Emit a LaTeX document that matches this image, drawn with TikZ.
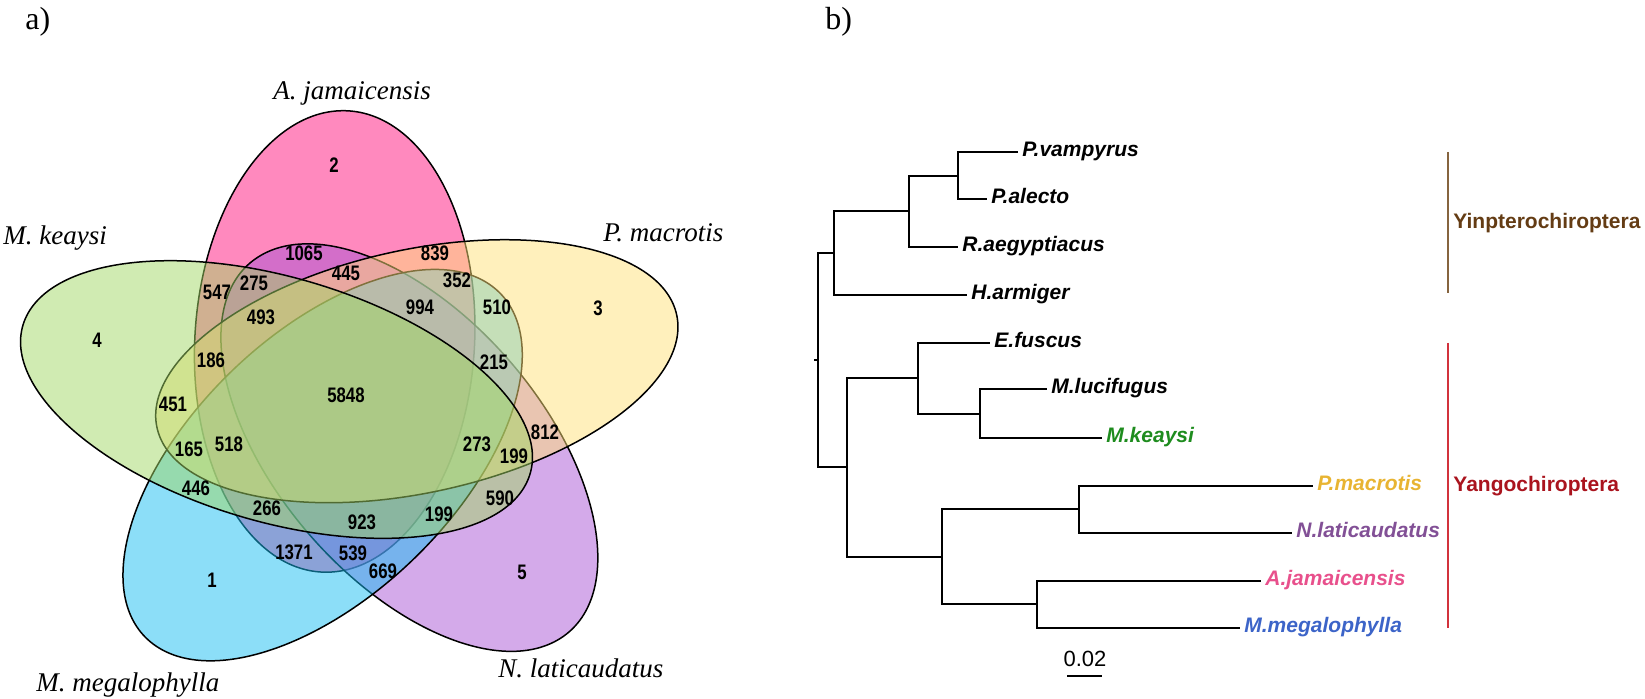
\documentclass[tikz,border=0pt]{standalone}
\usepackage{fontspec}
\setmainfont{Liberation Serif}
\setsansfont{Liberation Sans}
\newfontfamily\numfont[FakeStretch=0.8]{Liberation Sans}
\usetikzlibrary{positioning}

\definecolor{vennPink}{RGB}{255,20,125}
\definecolor{vennGreen}{RGB}{161,215,101}
\definecolor{vennYellow}{RGB}{255,225,121}
\definecolor{vennPurple}{RGB}{169,85,213}
\definecolor{vennBlue}{RGB}{25,189,241}
\definecolor{mkGreen}{RGB}{30,140,30}
\definecolor{pmGold}{RGB}{232,180,50}
\definecolor{nlPurple}{RGB}{130,80,150}
\definecolor{ajPink}{RGB}{232,80,140}
\definecolor{mmBlue}{RGB}{60,100,200}
\definecolor{yinLine}{RGB}{134,100,63}
\definecolor{yinText}{RGB}{100,60,20}
\definecolor{yangLine}{RGB}{210,50,60}
\definecolor{yangText}{RGB}{170,20,30}

\begin{document}
\begin{tikzpicture}
    [x=0.5pt, y=0.5pt,
     panelLabel/.style={font=\fontsize{16}{19}\selectfont, inner sep=0pt, anchor=base west},
     setLabel/.style={font=\fontsize{13.5}{16}\selectfont\itshape, inner sep=0pt, anchor=base west},
     countLabel/.style={font=\numfont\bfseries\fontsize{10.5}{12}\selectfont, inner sep=0pt},
     vennSet/.style={draw=black, line width=0.75pt, fill opacity=0.5},
     branch/.style={line width=1.1pt},
     leaf/.style={font=\sffamily\bfseries\itshape\fontsize{10.5}{12}\selectfont, inner xsep=2pt, inner ysep=0pt, anchor=mid west},
     cladeLabel/.style={font=\sffamily\bfseries\fontsize{10.5}{12}\selectfont, inner xsep=2.5pt, inner ysep=0pt, anchor=mid west},
    ]

    \useasboundingbox (0,0) rectangle (1645,-699);

    % panel letters
    \node[panelLabel] (panelA) at (25,-30) {a)};
    \node[panelLabel] (panelB) at (825,-30) {b)};

    % a) five-set Venn diagram
    \begin{scope}[shift={(352,-405)}, xscale=583, yscale=502]
        \filldraw[vennSet, fill=vennPink, rotate around={87.5:(-0.0297,0.1266)}] (-0.0297,0.1266) ellipse [x radius=0.46, y radius=0.24];
        \filldraw[vennSet, fill=vennPurple, rotate around={303.5:(0.0984,-0.0849)}] (0.0984,-0.0849) ellipse [x radius=0.46, y radius=0.24];
        \filldraw[vennSet, fill=vennBlue, rotate around={231.5:(-0.0504,-0.1198)}] (-0.0504,-0.1198) ellipse [x radius=0.46, y radius=0.24];
        \filldraw[vennSet, fill=vennYellow, rotate around={15.5:(0.1112,0.0673)}] (0.1112,0.0673) ellipse [x radius=0.46, y radius=0.24];
        \filldraw[vennSet, fill=vennGreen, rotate around={159.5:(-0.1295,0.0109)}] (-0.1295,0.0109) ellipse [x radius=0.46, y radius=0.24];
    \end{scope}

    \node[setLabel] (ajName) at (273,-100) {A. jamaicensis};
    \node[setLabel] (mkName) at (3,-245) {M. keaysi};
    \node[setLabel] (pmName) at (603,-242) {P. macrotis};
    \node[setLabel] (mmName) at (36,-692) {M. megalophylla};
    \node[setLabel] (nlName) at (498,-678) {N. laticaudatus};

    \node[countLabel] (ajOnly) at (334,-165) {2};
    \node[countLabel] (mkOnly) at (97,-340) {4};
    \node[countLabel] (pmOnly) at (598,-308) {3};
    \node[countLabel] (mmOnly) at (212,-580) {1};
    \node[countLabel] (nlOnly) at (522,-572) {5};
    \node[countLabel] (c1065) at (304,-253) {1065};
    \node[countLabel] (c839) at (435,-253) {839};
    \node[countLabel] (c445) at (346,-273) {445};
    \node[countLabel] (c352) at (457,-280) {352};
    \node[countLabel] (c547) at (217,-292) {547};
    \node[countLabel] (c275) at (254,-283) {275};
    \node[countLabel] (c994) at (420,-307) {994};
    \node[countLabel] (c510) at (497,-307) {510};
    \node[countLabel] (c493) at (261,-317) {493};
    \node[countLabel] (c186) at (211,-360) {186};
    \node[countLabel] (c215) at (494,-362) {215};
    \node[countLabel] (c5848) at (346,-395) {5848};
    \node[countLabel] (c451) at (173,-404) {451};
    \node[countLabel] (c165) at (189,-449) {165};
    \node[countLabel] (c518) at (229,-444) {518};
    \node[countLabel] (c273) at (477,-444) {273};
    \node[countLabel] (c812) at (545,-432) {812};
    \node[countLabel] (c199a) at (514,-456) {199};
    \node[countLabel] (c446) at (196,-488) {446};
    \node[countLabel] (c266) at (267,-508) {266};
    \node[countLabel] (c923) at (362,-522) {923};
    \node[countLabel] (c199b) at (439,-514) {199};
    \node[countLabel] (c590) at (500,-498) {590};
    \node[countLabel] (c1371) at (294,-552) {1371};
    \node[countLabel] (c539) at (353,-553) {539};
    \node[countLabel] (c669) at (383,-571) {669};

    % b) tree
    \coordinate (root) at (818,-360);
    \coordinate (rootTick) at (814,-360);
    \coordinate (yin) at (834,-253);
    \coordinate (yinA) at (909,-211);
    \coordinate (yinB) at (958,-176);
    \coordinate (yang) at (847,-467);
    \coordinate (vesp) at (918,-378);
    \coordinate (myot) at (980,-414);
    \coordinate (noct) at (942,-557);
    \coordinate (molo) at (1079,-509);
    \coordinate (phyl) at (1037,-604);

    \coordinate (tipPv) at (1018,-152);
    \coordinate (tipPa) at (987,-199);
    \coordinate (tipRa) at (958,-247);
    \coordinate (tipHa) at (967,-295);
    \coordinate (tipEf) at (990,-343);
    \coordinate (tipMl) at (1047,-389);
    \coordinate (tipMk) at (1102,-438);
    \coordinate (tipPm) at (1313,-486);
    \coordinate (tipNl) at (1292,-533);
    \coordinate (tipAj) at (1261,-581);
    \coordinate (tipMm) at (1240,-628);

    \node[right=0pt of tipPv, leaf] (Pv) {P.vampyrus};
    \node[right=0pt of tipPa, leaf] (Pa) {P.alecto};
    \node[right=0pt of tipRa, leaf] (Ra) {R.aegyptiacus};
    \node[right=0pt of tipHa, leaf] (Ha) {H.armiger};
    \node[right=0pt of tipEf, leaf] (Ef) {E.fuscus};
    \node[right=0pt of tipMl, leaf] (Ml) {M.lucifugus};
    \node[right=0pt of tipMk, leaf, text=mkGreen] (Mk) {M.keaysi};
    \node[right=0pt of tipPm, leaf, text=pmGold] (Pm) {P.macrotis};
    \node[right=0pt of tipNl, leaf, text=nlPurple] (Nl) {N.laticaudatus};
    \node[right=0pt of tipAj, leaf, text=ajPink] (Aj) {A.jamaicensis};
    \node[right=0pt of tipMm, leaf, text=mmBlue] (Mm) {M.megalophylla};

    \draw[branch] (rootTick) -- (root);
    \draw[branch] (root) |- (yin);
    \draw[branch] (yin) |- (yinA);
    \draw[branch] (yinA) |- (yinB);
    \draw[branch] (yinB) |- (tipPv);
    \draw[branch] (yinB) |- (tipPa);
    \draw[branch] (yinA) |- (tipRa);
    \draw[branch] (yin) |- (tipHa);
    \draw[branch] (root) |- (yang);
    \draw[branch] (yang) |- (vesp);
    \draw[branch] (vesp) |- (tipEf);
    \draw[branch] (vesp) |- (myot);
    \draw[branch] (myot) |- (tipMl);
    \draw[branch] (myot) |- (tipMk);
    \draw[branch] (yang) |- (noct);
    \draw[branch] (noct) |- (molo);
    \draw[branch] (molo) |- (tipPm);
    \draw[branch] (molo) |- (tipNl);
    \draw[branch] (noct) |- (phyl);
    \draw[branch] (phyl) |- (tipAj);
    \draw[branch] (phyl) |- (tipMm);

    % clade bars
    \coordinate (yinTop) at (1448,-152);
    \coordinate (yinBot) at (1448,-293);
    \coordinate (yangTop) at (1448,-343);
    \coordinate (yangBot) at (1448,-628);
    \draw[yinLine, line width=1pt] (yinTop) -- (yinBot);
    \draw[yangLine, line width=1pt] (yangTop) -- (yangBot);
    \node[cladeLabel, text=yinText] (yinName) at (1448,-224) {Yinpterochiroptera};
    \node[cladeLabel, text=yangText] (yangName) at (1448,-487) {Yangochiroptera};

    % scale bar
    \coordinate (scaleL) at (1067,-676);
    \coordinate (scaleR) at (1102,-676);
    \draw[line width=1.1pt] (scaleL) -- (scaleR);
    \node[font=\sffamily\fontsize{11}{13}\selectfont, inner sep=0pt, anchor=base] (scaleText) at (1085,-667) {0.02};

\end{tikzpicture}
\end{document}
